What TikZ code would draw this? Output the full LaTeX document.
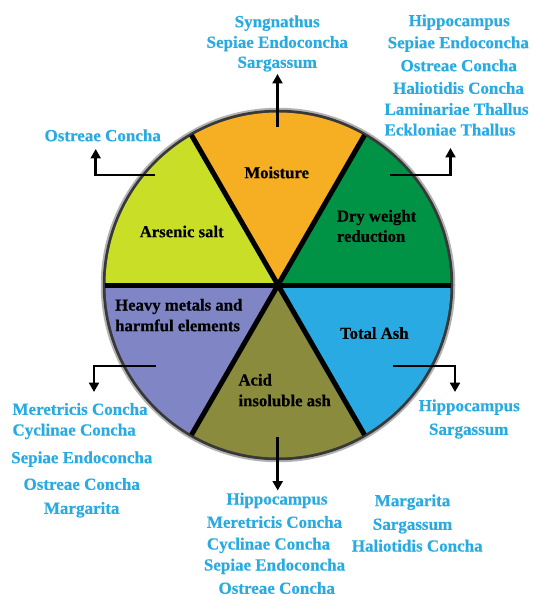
\documentclass[tikz,border=0pt]{standalone}
\usepackage{fontspec}
\setmainfont{Liberation Serif}[BoldFeatures={FakeBold=0.4}]
\usetikzlibrary{arrows.meta,calc}
\definecolor{lblue}{RGB}{41,171,226}
\definecolor{corange}{RGB}{246,174,35}
\definecolor{cgreen}{RGB}{0,146,69}
\definecolor{cyellow}{RGB}{201,222,38}
\definecolor{clav}{RGB}{128,134,197}
\definecolor{colive}{RGB}{138,139,60}
\definecolor{csky}{RGB}{41,170,226}
\tikzset{
  bluetxt/.style={text=lblue, font=\bfseries\fontsize{17}{20}\selectfont, inner sep=0pt, anchor=base},
  bluel/.style={bluetxt, anchor=base west},
  intxt/.style={text=black, font=\bfseries\fontsize{16.7}{20}\selectfont, inner sep=0pt, anchor=base},
  intxtl/.style={intxt, anchor=base west},
  conn/.style={line width=2.7pt, -{Triangle[width=10pt,length=9.5pt]}},
  divider/.style={line width=5pt, black},
}
\begin{document}
\begin{tikzpicture}[x=1pt,y=-1pt]
\useasboundingbox[fill=white] (0,0) rectangle (533,596);
\coordinate (C) at (278,285);
% shadow ring and border
\draw[line width=3.5pt, black!30] (C) circle (175.5);
\draw[line width=3.5pt, black!78] (C) circle (173.5);
% sectors (page angles negated because y points down)
\fill[cgreen]  (C) -- ($(C)+(0:172.5)$)    arc[start angle=0,    end angle=-60,  radius=172.5] -- cycle;
\fill[corange] (C) -- ($(C)+(-60:172.5)$)  arc[start angle=-60,  end angle=-120, radius=172.5] -- cycle;
\fill[cyellow] (C) -- ($(C)+(-120:172.5)$) arc[start angle=-120, end angle=-180, radius=172.5] -- cycle;
\fill[clav]    (C) -- ($(C)+(-180:172.5)$) arc[start angle=-180, end angle=-240, radius=172.5] -- cycle;
\fill[colive]  (C) -- ($(C)+(-240:172.5)$) arc[start angle=-240, end angle=-300, radius=172.5] -- cycle;
\fill[csky]    (C) -- ($(C)+(-300:172.5)$) arc[start angle=-300, end angle=-360, radius=172.5] -- cycle;
% dividers
\draw[divider] ($(C)+(0:173)$) -- ($(C)+(180:173)$);
\draw[divider] ($(C)+(60:173)$) -- ($(C)+(240:173)$);
\draw[divider] ($(C)+(120:173)$) -- ($(C)+(300:173)$);

% sector labels
\node[intxt]  (moist) at (276.7,178.2) {Moisture};
\node[intxt]  (ars)   at (181.7,237.2) {Arsenic salt};
\node[intxtl] (dry1)  at (336.7,221.5) {Dry weight};
\node[intxtl] (dry2)  at (336.7,241.8) {reduction};
\node[intxtl] (hm1)   at (115,310.5) {Heavy metals and};
\node[intxtl] (hm2)   at (115,331.2) {harmful elements};
\node[intxt]  (tash)  at (374.3,338.8) {Total Ash};
\node[intxtl] (ac1)   at (238.3,385.5) {Acid};
\node[intxtl] (ac2)   at (238.3,406.2) {insoluble ash};

% top list
\node[bluetxt] (t1) at (277.2,27.2) {Syngnathus};
\node[bluetxt] (t2) at (277.2,47.8) {Sepiae Endoconcha};
\node[bluetxt] (t3) at (277.2,67.8) {Sargassum};
% top right list
\node[bluetxt] (r1) at (459.2,26.2) {Hippocampus};
\node[bluetxt] (r2) at (458.3,48.2) {Sepiae Endoconcha};
\node[bluetxt] (r3) at (458.7,71.2) {Ostreae Concha};
\node[bluetxt] (r4) at (458.5,93.8) {Haliotidis Concha};
\node[bluel]   (r5) at (384.3,114.8) {Laminariae Thallus};
\node[bluel]   (r6) at (384.3,135.5) {Eckloniae Thallus};
% top left
\node[bluetxt] (l1) at (102.7,141.2) {Ostreae Concha};
% bottom left list
\node[bluel]   (bl1) at (12.3,414.8) {Meretricis Concha};
\node[bluel]   (bl2) at (12.3,435.5) {Cyclinae Concha};
\node[bluetxt] (bl3) at (81.8,463.2) {Sepiae Endoconcha};
\node[bluetxt] (bl4) at (81.7,489.8) {Ostreae Concha};
\node[bluetxt] (bl5) at (81.7,513.8) {Margarita};
% bottom centre list
\node[bluetxt] (bc1) at (277,504.5) {Hippocampus};
\node[bluel]   (bc2) at (206.7,527.8) {Meretricis Concha};
\node[bluel]   (bc3) at (206.7,549.5) {Cyclinae Concha};
\node[bluetxt] (bc4) at (274.5,570.5) {Sepiae Endoconcha};
\node[bluetxt] (bc5) at (276.7,593.8) {Ostreae Concha};
% bottom right lists
\node[bluetxt] (br1) at (469.2,411.2) {Hippocampus};
\node[bluetxt] (br2) at (468.7,434.8) {Sargassum};
\node[bluetxt] (bm1) at (412.5,506.2) {Margarita};
\node[bluetxt] (bm2) at (412.5,529.8) {Sargassum};
\node[bluetxt] (bm3) at (417.2,551.5) {Haliotidis Concha};

% connector end points
\coordinate (aTs) at (277.5,127);
\coordinate (aTe) at (277.5,74);
\coordinate (aTLs) at (155,175);
\coordinate (aTLe) at (95.7,149);
\coordinate (aTRs) at (390,175);
\coordinate (aTRe) at (450.5,148);
\coordinate (aBLs) at (156,366);
\coordinate (aBLe) at (94,392);
\coordinate (aBRs) at (392.7,366);
\coordinate (aBRe) at (455,392);
\coordinate (aBs) at (277.7,436.7);
\coordinate (aBe) at (277.7,490.5);

\draw[conn] (aTs) -- (aTe);
\draw[conn] (aTLs) -| (aTLe);
\draw[conn] (aTRs) -| (aTRe);
\draw[conn] (aBLs) -| (aBLe);
\draw[conn] (aBRs) -| (aBRe);
\draw[conn] (aBs) -- (aBe);
\end{tikzpicture}
\end{document}
